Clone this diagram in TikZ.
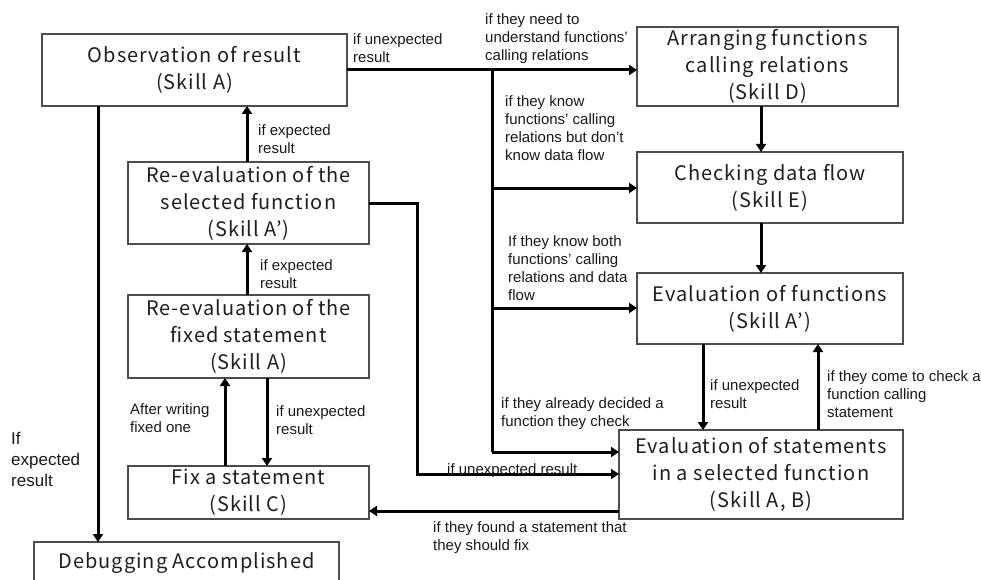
\documentclass[tikz,border=0pt]{standalone}
\usepackage{fontspec}
\setmainfont{Liberation Sans}
\newfontfamily\bxfont{Noto Sans CJK JP}[RawFeature=+pwid, LetterSpace=5]
\usetikzlibrary{arrows.meta}
\begin{document}
\begin{tikzpicture}[x=1pt,y=-1pt,
  box/.style={draw=black!70, line width=1.1pt, inner sep=0pt, outer sep=0pt, align=center,
    font=\bxfont\fontsize{20}{27}\selectfont, text=black!88},
  lbl/.style={inner sep=0pt, anchor=north west, align=left, text=black!90,
    font=\fontsize{15}{18}\selectfont},
  conn/.style={line width=3pt, draw=black},
  arr/.style={conn, -{Triangle[length=8pt,width=10pt]}}]
\useasboundingbox (0,0) rectangle (981,580);
\clip (0,0) rectangle (981,580);
\fill[white] (0,0) rectangle (981,580);
% boxes
\node[box, minimum width=305pt, minimum height=72pt] (obs) at (194.5,70) {Observation of result\\(Skill A)};
\node[box, minimum width=241pt, minimum height=82pt] (sel) at (248.5,203) {Re-evaluation of the\\selected function\\(Skill A’)};
\node[box, minimum width=241pt, minimum height=83pt] (fixd) at (248.5,336.5) {Re-evaluation of the\\fixed statement\\(Skill A)};
\node[box, minimum width=241pt, minimum height=53pt] (fix) at (248.5,492.5) {Fix a statement\\(Skill C)};
\node[box, minimum width=305pt, minimum height=43pt] (dbg) at (186.5,563.5) {Debugging Accomplished};
\node[box, minimum width=261pt, minimum height=79pt] (arrn) at (767.5,66.5) {Arranging functions\\calling relations\\(Skill D)};
\node[box, minimum width=266pt, minimum height=71pt] (chk) at (770,187.5) {Checking data flow\\(Skill E)};
\node[box, minimum width=266pt, minimum height=71pt] (evf) at (770,308.5) {Evaluation of functions\\(Skill A’)};
\node[box, minimum width=284pt, minimum height=89pt] (evs) at (761,474.5) {Evaluation of statements\\in a selected function\\(Skill A, B)};
% helper coordinates
\coordinate (br) at (492,70);
\coordinate (brD) at (492,188);
\coordinate (brE) at (492,308);
\coordinate (brS) at (492,452);
\coordinate (x98) at (98,0);
\coordinate (x225) at (225,0);
\coordinate (x247) at (247,0);
\coordinate (x267) at (267,0);
\coordinate (x417) at (417,0);
\coordinate (x703) at (703,0);
\coordinate (x761) at (761,0);
\coordinate (x818) at (818,0);
\coordinate (y474) at (0,474);
\coordinate (y511) at (0,511);
% connectors
\draw[arr] (obs.east) -- (arrn.west |- obs.east);
\draw[conn] (br) -- (brS);
\draw[arr] (brS) -- (evs.west |- brS);
\draw[arr] (brD) -- (chk.west |- brD);
\draw[arr] (brE) -- (evf.west |- brE);
\draw[arr] (arrn.south -| x761) -- (chk.north -| x761);
\draw[arr] (chk.south -| x761) -- (evf.north -| x761);
\draw[arr] (evf.south -| x703) -- (evs.north -| x703);
\draw[arr] (evs.north -| x818) -- (evf.south -| x818);
\draw[arr] (sel.east) -- (sel.east -| x417) -- (x417 |- y474) -- (evs.west |- y474);
\draw[arr] (evs.west |- y511) -- (fix.east |- y511);
\draw[arr] (obs.south -| x98) -- (dbg.north -| x98);
\draw[arr] (sel.north -| x247) -- (obs.south -| x247);
\draw[arr] (fixd.north -| x247) -- (sel.south -| x247);
\draw[arr] (fix.north -| x225) -- (fixd.south -| x225);
\draw[arr] (fixd.south -| x267) -- (fix.north -| x267);
% labels
\node[lbl] (l1) at (353,33) {if unexpected\\result};
\node[lbl] (l2) at (485,13) {if they need to\\understand functions’\\calling relations};
\node[lbl] (l3) at (505,95) {if they know\\functions’ calling\\relations but don’t\\know data flow};
\node[lbl] (l4) at (508,235) {If they know both\\functions’ calling\\relations and data\\flow};
\node[lbl] (l5) at (501,397) {if they already decided a\\function they check};
\node[lbl] (l6) at (710,379) {if unexpected\\result};
\node[lbl] (l7) at (827,370) {if they come to check a\\function calling\\statement};
\node[lbl] (l8) at (447,463) {if unexpected result};
\node[lbl] (l9) at (433,521) {if they found a statement that\\they should fix};
\node[lbl, font=\fontsize{17}{21}\selectfont] (l10) at (11,432) {If\\expected\\result};
\node[lbl] (l11) at (258,124) {if expected\\result};
\node[lbl] (l12) at (260,259) {if expected\\result};
\node[lbl] (l13) at (130,403) {After writing\\fixed one};
\node[lbl] (l14) at (276,405) {if unexpected\\result};
\end{tikzpicture}
\end{document}
